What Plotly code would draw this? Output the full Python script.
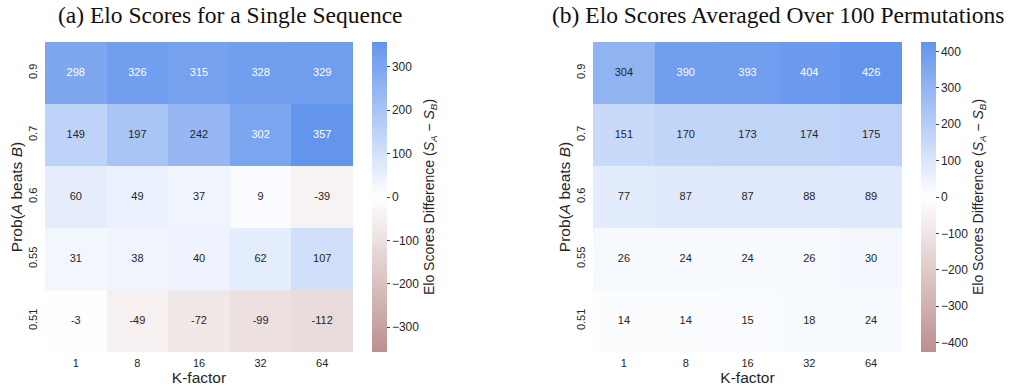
import plotly.graph_objects as go

W, H = 1011, 386

k_factors = ["1", "8", "16", "32", "64"]
probs = ["0.51", "0.55", "0.6", "0.7", "0.9"]  # bottom -> top

# rows in order of probs (bottom -> top)
single_seq = [
    [-3, -49, -72, -99, -112],
    [31, 38, 40, 62, 107],
    [60, 49, 37, 9, -39],
    [149, 197, 242, 302, 357],
    [298, 326, 315, 328, 329],
]
averaged = [
    [14, 14, 15, 18, 24],
    [26, 24, 24, 26, 30],
    [77, 87, 87, 88, 89],
    [151, 170, 173, 174, 175],
    [304, 390, 393, 404, 426],
]

titles = ["(a) Elo Scores for a Single Sequence",
          "(b) Elo Scores Averaged Over 100 Permutations"]

NEG = (188, 143, 143)   # rosybrown
MID = (255, 255, 255)
POS = (100, 149, 237)   # cornflowerblue
colorscale = [[0, "rgb(188,143,143)"], [0.5, "rgb(255,255,255)"], [1, "rgb(100,149,237)"]]


def cell_color(v, vmax):
    f = v / vmax
    if f >= 0:
        return tuple(MID[i] + (POS[i] - MID[i]) * f for i in range(3))
    return tuple(MID[i] + (NEG[i] - MID[i]) * (-f) for i in range(3))


def lum(c):
    def lin(x):
        x = x / 255
        return x / 12.92 if x <= 0.03928 else ((x + 0.055) / 1.055) ** 2.4
    r, g, b = (lin(x) for x in c)
    return 0.2126 * r + 0.7152 * g + 0.0722 * b


def px_x(p):
    return p / W


def px_y(p):
    return 1 - p / H


fig = go.Figure()

panels = [
    dict(data=single_seq, x0=45, x1=353, cbx=372, ticks=[-300, -200, -100, 0, 100, 200, 300]),
    dict(data=averaged, x0=593, x1=902, cbx=921, ticks=[-400, -300, -200, -100, 0, 100, 200, 300, 400]),
]
top, bottom = 42, 352

cbtitle = "Elo Scores Difference (<i>S</i><sub><i>A</i></sub> \u2212 <i>S</i><sub><i>B</i></sub>)"
SANS = "Liberation Sans, Arial"

for i, p in enumerate(panels):
    z = p["data"]
    vmax = max(abs(v) for row in z for v in row)
    xa = "x" if i == 0 else "x2"
    ya = "y" if i == 0 else "y2"
    fig.add_trace(go.Heatmap(
        z=z, x=k_factors, y=probs, xaxis=xa, yaxis=ya,
        colorscale=colorscale, zmin=-vmax, zmax=vmax, zmid=0,
        hoverinfo="skip",
        colorbar=dict(
            x=px_x(p["cbx"]), xanchor="left", xpad=0, ypad=0,
            y=px_y(top), yanchor="top", len=bottom - top, lenmode="pixels",
            thickness=15, thicknessmode="pixels", outlinewidth=0,
            tickvals=p["ticks"], ticks="outside", ticklen=3, tickwidth=1,
            tickcolor="#444", tickfont=dict(family=SANS, size=12, color="#262626"),
            title=dict(text=cbtitle, side="right",
                       font=dict(family=SANS, size=14, color="#262626")),
        ),
    ))
    xs, ys, txt, cols = [], [], [], []
    for r, row in enumerate(z):
        for c, v in enumerate(row):
            xs.append(k_factors[c])
            ys.append(probs[r])
            txt.append(str(v))
            cols.append("#262626" if lum(cell_color(v, vmax)) > 0.408 else "#ffffff")
    fig.add_trace(go.Scatter(
        x=xs, y=ys, text=txt, mode="text", xaxis=xa, yaxis=ya,
        textfont=dict(family=SANS, size=11, color=cols),
        hoverinfo="skip", showlegend=False,
    ))

axis_font = dict(family=SANS, size=11, color="#262626")

for i, p in enumerate(panels):
    sx = "" if i == 0 else "2"
    fig.update_layout(**{
        f"xaxis{sx}": dict(
            domain=[px_x(p["x0"]), px_x(p["x1"])], anchor=f"y{sx}",
            type="category", categoryorder="array", categoryarray=k_factors,
            showgrid=False, zeroline=False, showline=False, ticks="",
            tickfont=axis_font, ticklabelstandoff=3,
            title=dict(text="K-factor", font=dict(family=SANS, size=15.5, color="#262626"), standoff=0),
        ),
        f"yaxis{sx}": dict(
            domain=[px_y(bottom), px_y(top)], anchor=f"x{sx}",
            type="category", categoryorder="array", categoryarray=probs,
            showgrid=False, zeroline=False, showline=False, ticks="",
            tickfont=axis_font, tickangle=-90, ticklabelstandoff=5,
            title=dict(text="Prob(<i>A</i> beats <i>B</i>)", font=dict(family=SANS, size=15.5, color="#262626"), standoff=0),
        ),
    })

for t, cx in zip(titles, [230, 778]):
    fig.add_annotation(text=t, x=px_x(cx), y=px_y(15), xref="paper", yref="paper",
                       showarrow=False, xanchor="center", yanchor="middle",
                       font=dict(family="Liberation Serif, Times New Roman", size=23.5, color="#111"))

fig.update_layout(
    width=W, height=H, autosize=False,
    margin=dict(l=0, r=0, t=0, b=0, autoexpand=False),
    paper_bgcolor="white", plot_bgcolor="white",
    showlegend=False,
)

fig.write_html("out.html", config={"displayModeBar": False},
               post_script="document.body.style.margin='0';document.body.style.overflow='hidden';")
